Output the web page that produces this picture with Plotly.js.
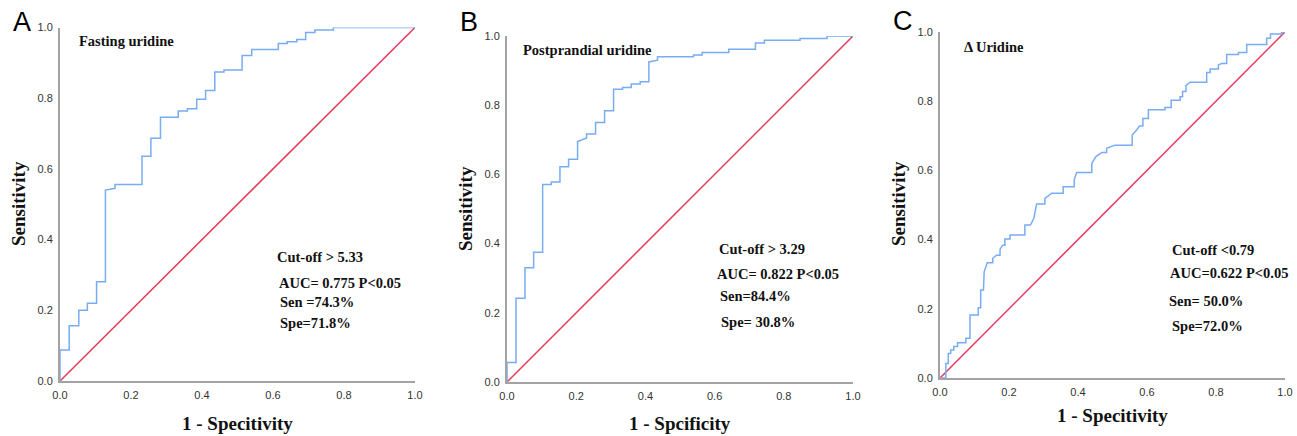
<!DOCTYPE html>
<html>
<head>
<meta charset="utf-8">
<script src="https://cdn.plot.ly/plotly-3.0.1.min.js"></script>
<style>html,body{margin:0;padding:0;background:#fff;}#chart{width:1297px;height:436px;}</style>
</head>
<body>
<div id="chart"></div>
<script>
// ---- Data ----
// Panel A: Fasting uridine ROC vertices
const fprA = [0,0,0.026,0.026,0.053,0.053,0.077,0.077,0.103,0.103,0.128,0.128,0.155,0.155,0.231,0.231,0.256,0.256,0.283,0.283,0.333,0.333,0.359,0.359,0.385,0.385,0.41,0.41,0.436,0.436,0.462,0.462,0.513,0.513,0.54,0.54,0.615,0.615,0.64,0.64,0.667,0.667,0.692,0.692,0.718,0.718,0.77,0.77,1];
const tprA = [0,0.088,0.088,0.156,0.156,0.20,0.20,0.22,0.22,0.281,0.281,0.54,0.545,0.556,0.556,0.636,0.636,0.687,0.687,0.746,0.746,0.764,0.764,0.770,0.770,0.797,0.797,0.822,0.822,0.874,0.874,0.88,0.88,0.921,0.921,0.938,0.938,0.955,0.955,0.96,0.96,0.966,0.966,0.986,0.986,0.993,0.993,1,1];
// Panel B: Postprandial uridine ROC vertices
const fprB = [0,0,0.026,0.026,0.052,0.052,0.077,0.077,0.103,0.103,0.128,0.128,0.153,0.153,0.178,0.178,0.204,0.204,0.23,0.23,0.256,0.256,0.282,0.282,0.308,0.308,0.334,0.334,0.359,0.359,0.385,0.385,0.41,0.41,0.435,0.435,0.539,0.539,0.564,0.564,0.641,0.641,0.718,0.718,0.744,0.744,0.847,0.847,0.925,0.925,1];
const tprB = [0,0.056,0.056,0.242,0.242,0.33,0.33,0.375,0.375,0.571,0.571,0.578,0.578,0.622,0.622,0.644,0.644,0.695,0.705,0.717,0.717,0.75,0.75,0.784,0.784,0.846,0.846,0.851,0.851,0.861,0.861,0.868,0.868,0.925,0.93,0.94,0.94,0.945,0.945,0.952,0.952,0.962,0.962,0.98,0.98,0.988,0.988,0.993,0.993,1,1];
// Panel C: Delta uridine ROC vertices
const fprC = [0,0.017,0.017,0.024,0.024,0.031,0.031,0.04,0.04,0.051,0.051,0.075,0.075,0.087,0.087,0.111,0.111,0.118,0.118,0.126,0.128,0.137,0.153,0.153,0.164,0.174,0.174,0.182,0.188,0.188,0.203,0.203,0.246,0.246,0.262,0.272,0.28,0.304,0.304,0.314,0.324,0.357,0.357,0.389,0.389,0.396,0.44,0.44,0.452,0.469,0.483,0.483,0.507,0.557,0.557,0.57,0.578,0.588,0.588,0.604,0.604,0.652,0.652,0.67,0.67,0.696,0.696,0.703,0.703,0.713,0.713,0.725,0.773,0.773,0.783,0.783,0.807,0.807,0.816,0.831,0.831,0.865,0.865,0.889,0.889,0.947,0.947,0.958,0.958,0.99,0.99,1];
const tprC = [0,0,0.042,0.042,0.071,0.071,0.081,0.081,0.091,0.091,0.102,0.102,0.115,0.115,0.182,0.182,0.203,0.203,0.254,0.254,0.307,0.333,0.333,0.346,0.355,0.355,0.372,0.384,0.384,0.402,0.402,0.413,0.413,0.442,0.442,0.461,0.503,0.503,0.519,0.527,0.534,0.534,0.553,0.553,0.572,0.594,0.594,0.62,0.64,0.652,0.652,0.664,0.673,0.673,0.702,0.717,0.728,0.728,0.75,0.75,0.775,0.775,0.782,0.782,0.803,0.803,0.813,0.813,0.828,0.828,0.845,0.855,0.855,0.883,0.883,0.893,0.893,0.905,0.909,0.909,0.935,0.935,0.941,0.941,0.964,0.964,0.982,0.982,0.994,0.994,1,1];
// Reference diagonal
const diagX = [0, 1];
const diagY = [0, 1];
// Texts
const panelLetters = ["A", "B", "C"];
const panelTitles = ["Fasting uridine", "Postprandial uridine", "\u0394 Uridine"];
const xTitles = ["1 - Specitivity", "1 - Spcificity", "1 - Specitivity"];
const yTitle = "Sensitivity";
const statsA = ["Cut-off > 5.33", "AUC= 0.775 P<0.05", "Sen =74.3%", "Spe=71.8%"];
const statsB = ["Cut-off > 3.29", "AUC= 0.822 P<0.05", "Sen=84.4%", "Spe= 30.8%"];
const statsC = ["Cut-off <0.79", "AUC=0.622 P<0.05", "Sen= 50.0%", "Spe=72.0%"];
const tickVals = [0, 0.2, 0.4, 0.6, 0.8, 1.0];
const tickText = ["0.0", "0.2", "0.4", "0.6", "0.8", "1.0"];

// ---- Layout geometry (pixels) ----
const W = 1297, H = 436;
const px = v => v / W;
const py = v => 1 - v / H;
const panels = [
  {x0: 60, x1: 415, y0: 381, y1: 27.5},
  {x0: 507, x1: 853, y0: 382, y1: 36},
  {x0: 940, x1: 1285, y0: 378, y1: 32}
];
const curves = [[fprA, tprA], [fprB, tprB], [fprC, tprC]];
const BLUE = '#78acf3', RED = '#e8385a', AXIS = '#a3a3a3';

const traces = [];
const layout = {
  width: W, height: H,
  margin: {l: 0, r: 0, t: 0, b: 0},
  paper_bgcolor: '#fff', plot_bgcolor: '#fff',
  showlegend: false,
  annotations: []
};

panels.forEach((p, i) => {
  const s = i === 0 ? '' : String(i + 1);
  const axCommon = {
    range: [0, 1], fixedrange: true,
    tickmode: 'array', tickvals: tickVals, ticktext: tickText,
    showgrid: false, zeroline: false,
    showline: true, linecolor: AXIS, linewidth: 2,
    ticks: '', ticklabelstandoff: 3,
    tickfont: {family: 'Liberation Sans, Arial, sans-serif', size: 11, color: '#333'}
  };
  layout['xaxis' + s] = Object.assign({}, axCommon, {
    domain: [px(p.x0), px(p.x1)], anchor: 'y' + s
  });
  layout['yaxis' + s] = Object.assign({}, axCommon, {
    domain: [py(p.y0), py(p.y1)], anchor: 'x' + s
  });
  traces.push({
    x: diagX, y: diagY, xaxis: 'x' + s, yaxis: 'y' + s,
    mode: 'lines', line: {color: RED, width: 1.5}, hoverinfo: 'skip'
  });
  traces.push({
    x: curves[i][0], y: curves[i][1], xaxis: 'x' + s, yaxis: 'y' + s,
    mode: 'lines', line: {color: BLUE, width: 1.5}, hoverinfo: 'skip'
  });
});

const serif = 'Liberation Serif, Times New Roman, serif';
const ann = (x, y, text, opts) => Object.assign({
  xref: 'paper', yref: 'paper', x: px(x), y: py(y), text: text,
  showarrow: false, xanchor: 'left', yanchor: 'middle'
}, opts);

// Panel letters
[[11, 22], [458, 22], [891, 21]].forEach((c, i) => {
  layout.annotations.push(ann(c[0], c[1], panelLetters[i], {
    font: {family: 'Liberation Sans, Arial, sans-serif', size: 27, color: '#000'}
  }));
});
// Panel titles inside plot
[[77, 41], [521, 50], [962, 47]].forEach((c, i) => {
  layout.annotations.push(ann(c[0], c[1], '<b>' + panelTitles[i] + '</b>', {
    font: {family: serif, size: 14.5, color: '#111'}
  }));
});
// X axis titles
[[237.5, 423], [680, 423], [1112.5, 415]].forEach((c, i) => {
  layout.annotations.push(ann(c[0], c[1], '<b>' + xTitles[i] + '</b>', {
    xanchor: 'center', font: {family: serif, size: 19, color: '#111'}
  }));
});
// Y axis titles
[[18, 204], [466, 209], [898, 204]].forEach((c, i) => {
  layout.annotations.push(ann(c[0], c[1], '<b>' + yTitle + '</b>', {
    xanchor: 'center', textangle: -90, font: {family: serif, size: 19, color: '#111'}
  }));
});
// Stats blocks
const statPos = [
  [[275, 257], [277, 283], [278, 302], [278, 323]],
  [[717, 249], [715, 274], [718, 296], [719, 322]],
  [[1170, 250], [1168, 273], [1167, 301], [1170, 326]]
];
[statsA, statsB, statsC].forEach((st, i) => {
  st.forEach((t, j) => {
    layout.annotations.push(ann(statPos[i][j][0], statPos[i][j][1], '<b>' + t + '</b>', {
      font: {family: serif, size: 14.5, color: '#111'}
    }));
  });
});

Plotly.newPlot('chart', traces, layout, {staticPlot: true, displayModeBar: false});
</script>
</body>
</html>
